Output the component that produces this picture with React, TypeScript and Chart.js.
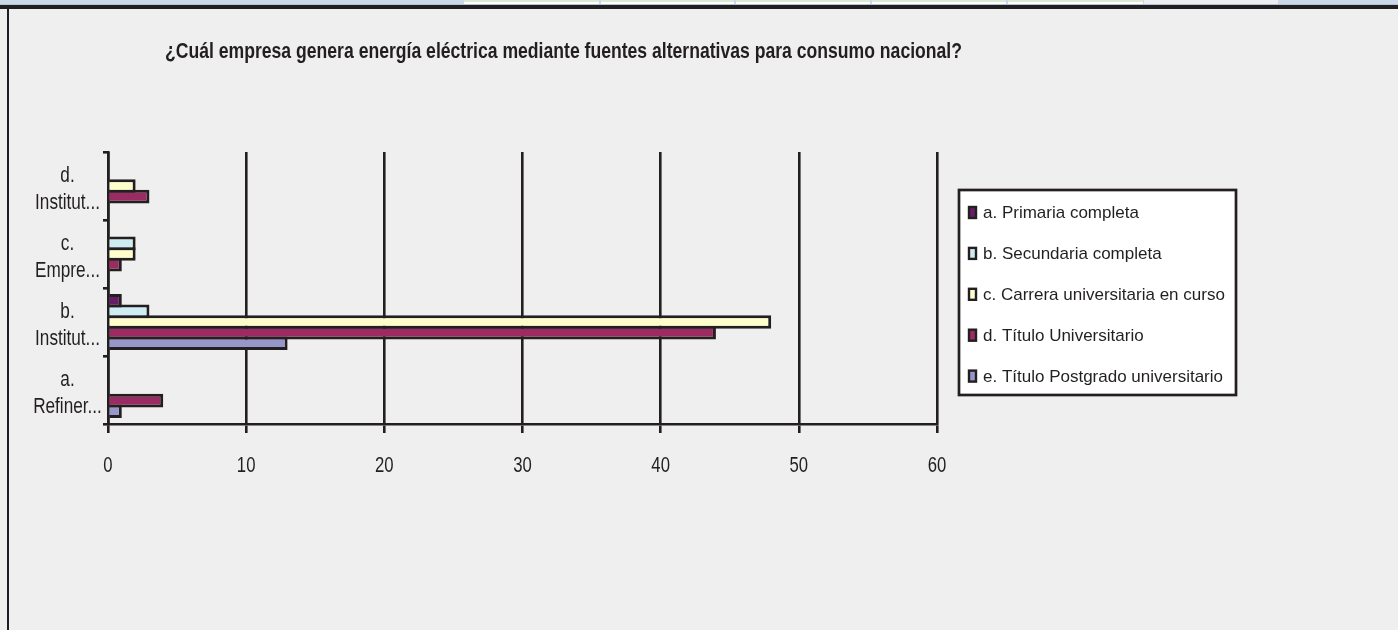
import React, { useEffect, useRef } from 'react';
import { Chart, registerables } from 'chart.js';

Chart.register(...registerables);

// Question shown above the chart
const chartTitle =
  '¿Cuál empresa genera energía eléctrica mediante fuentes alternativas para consumo nacional?';

// Answer options (bottom to top), each split over two lines
const categories = [
  ['a.', 'Refiner...'],
  ['b.', 'Institut...'],
  ['c.', 'Empre...'],
  ['d.', 'Institut...'],
];

// Education level of the respondents
const seriesNames = [
  'a. Primaria completa',
  'b. Secundaria completa',
  'c. Carrera universitaria en curso',
  'd. Título Universitario',
  'e. Título Postgrado universitario',
];

// Counts per answer option, one array per education level
const primaria = [0, 1, 0, 0];
const secundaria = [0, 3, 2, 0];
const carrera = [0, 48, 2, 2];
const titulo = [4, 44, 1, 3];
const postgrado = [1, 13, 0, 0];

const xMin = 0;
const xMax = 60;
const xStep = 10;

const seriesColors = ['#661d68', '#cdedf3', '#fefdcc', '#9b2c63', '#9696ca'];

const INK = '#231f20';
const FAMILY = "'Liberation Sans', Arial, sans-serif";

// Text drawn with an optional horizontal squeeze (condensed look)
function drawText(
  ctx: CanvasRenderingContext2D,
  text: string,
  x: number,
  y: number,
  size: number,
  scaleX: number,
  align: CanvasTextAlign,
  weight = 'normal'
) {
  ctx.save();
  ctx.translate(x, y);
  ctx.scale(scaleX, 1);
  ctx.font = `${weight} ${size}px ${FAMILY}`;
  ctx.textAlign = align;
  ctx.textBaseline = 'alphabetic';
  ctx.fillStyle = INK;
  ctx.fillText(text, 0, 0);
  ctx.restore();
}

const titlePlugin = {
  id: 'questionTitle',
  afterDraw(chart: Chart) {
    const ctx = chart.ctx;
    ctx.save();
    ctx.font = `bold 22px ${FAMILY}`;
    const natural = ctx.measureText(chartTitle).width;
    ctx.restore();
    const span = 797;
    drawText(ctx, chartTitle, 165, 58, 22, span / natural, 'left', 'bold');
  },
};

// Axis labels in the narrow face, placed from the chart's own scales
const axisLabels = {
  id: 'axisLabels',
  afterDraw(chart: Chart) {
    const ctx = chart.ctx;
    const xs: any = chart.scales.x;
    xs.ticks.forEach((t: any, i: number) => {
      const px = xs.getPixelForTick(i);
      drawText(ctx, String(t.value), px, 471.5, 22, 0.76, 'center');
    });
    const ys: any = chart.scales.y;
    ys.ticks.forEach((t: any, i: number) => {
      const py = ys.getPixelForTick(i);
      const lines = chart.data.labels![t.value] as string[];
      drawText(ctx, lines[0], 67.5, py - 4.5, 22, 0.78, 'center');
      drawText(ctx, lines[1], 67.5, py + 22.5, 22, 0.78, 'center');
    });
  },
};

const boxedLegend = {
  id: 'boxedLegend',
  afterDraw(chart: Chart) {
    const ctx = chart.ctx;
    const left = 959;
    const top = 190;
    const width = 277;
    const height = 205;
    ctx.save();
    ctx.fillStyle = '#ffffff';
    ctx.fillRect(left, top, width, height);
    ctx.lineWidth = 2.7;
    ctx.strokeStyle = INK;
    ctx.strokeRect(left, top, width, height);
    chart.data.datasets.forEach((ds, i) => {
      const base = 218 + i * 40.9;
      ctx.fillStyle = ds.backgroundColor as string;
      ctx.fillRect(969, base - 11, 7, 11);
      ctx.lineWidth = 2.4;
      ctx.strokeStyle = INK;
      ctx.strokeRect(969, base - 11, 7, 11);
      drawText(ctx, ds.label as string, 983, base, 17, 1, 'left');
    });
    ctx.restore();
  },
};

export default function App() {
  const canvasRef = useRef<HTMLCanvasElement>(null);

  useEffect(() => {
    if (!canvasRef.current) return;
    const values = [primaria, secundaria, carrera, titulo, postgrado];
    const chart = new Chart(canvasRef.current, {
      type: 'bar',
      data: {
        labels: categories,
        datasets: seriesNames.map((name, i) => ({
          label: name,
          data: values[i],
          backgroundColor: seriesColors[i],
          borderColor: INK,
          borderWidth: 3,
          categoryPercentage: 0.78,
          barPercentage: 1.28,
        })),
      },
      options: {
        indexAxis: 'y',
        animation: false,
        responsive: false,
        maintainAspectRatio: false,
        layout: { padding: { left: 0, top: 152, right: 461, bottom: 0 } },
        plugins: {
          legend: { display: false },
          tooltip: { enabled: false },
          title: { display: false },
        },
        scales: {
          x: {
            min: xMin,
            max: xMax,
            afterFit(scale: any) {
              scale.height = 206;
            },
            ticks: { stepSize: xStep, display: false },
            grid: {
              color: INK,
              lineWidth: 2.6,
              tickLength: 9,
              drawOnChartArea: true,
            },
            border: { display: true, color: INK, width: 2.6 },
          },
          y: {
            reverse: true,
            afterFit(scale: any) {
              scale.width = 108;
            },
            ticks: { display: false },
            grid: {
              color: INK,
              lineWidth: 2.6,
              tickLength: 5,
              drawOnChartArea: false,
              offset: true,
            },
            border: { display: true, color: INK, width: 2.6 },
          },
        },
      },
      plugins: [titlePlugin, axisLabels, boxedLegend],
    });
    return () => chart.destroy();
  }, []);

  const cellEdges = [463, 600, 735, 871, 1007, 1144];

  return (
    <div
      style={{
        position: 'absolute',
        left: 0,
        top: 0,
        width: 1398,
        height: 630,
        overflow: 'hidden',
        background: '#efefef',
      }}
    >
      {/* window strip along the top edge */}
      <div style={{ position: 'absolute', left: 0, top: 0, width: 1398, height: 4, background: '#cbd8e7' }} />
      {cellEdges.slice(0, -1).map((x, i) => (
        <div
          key={x}
          style={{
            position: 'absolute',
            left: x + 1,
            top: 0,
            width: cellEdges[i + 1] - x - 2,
            height: 4,
            background: '#ffffff',
            borderTop: '2px solid #dcead5',
            boxSizing: 'border-box',
          }}
        />
      ))}
      <div style={{ position: 'absolute', left: 1144, top: 0, width: 134, height: 4, background: '#eceef1' }} />
      <div style={{ position: 'absolute', left: 0, top: 4, width: 1398, height: 1, background: '#b9c2cf' }} />
      <div style={{ position: 'absolute', left: 0, top: 5, width: 1398, height: 4, background: '#1f1f22' }} />
      <div style={{ position: 'absolute', left: 7, top: 9, width: 2, height: 621, background: '#1d1d2a' }} />
      <canvas
        ref={canvasRef}
        width={1398}
        height={630}
        style={{ position: 'absolute', left: 0, top: 0, width: 1398, height: 630 }}
      />
    </div>
  );
}
